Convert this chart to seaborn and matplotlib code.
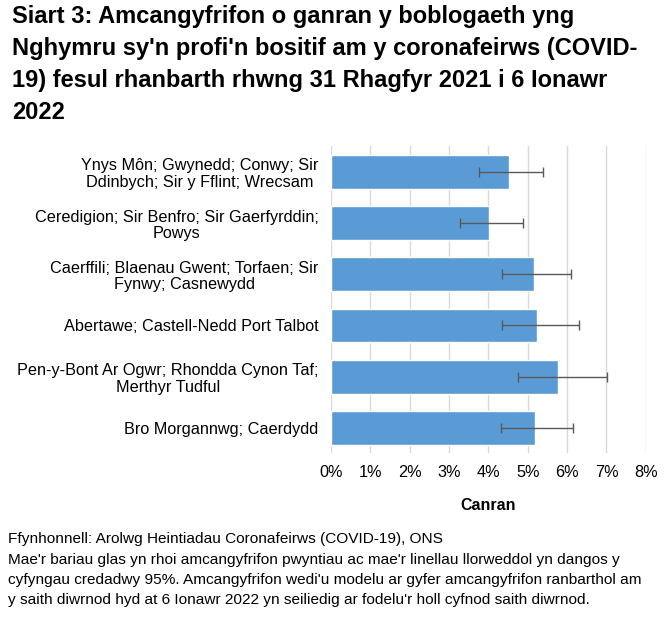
import numpy as np
import pandas as pd
import matplotlib
matplotlib.use("Agg")
import matplotlib.pyplot as plt
import seaborn as sns
from matplotlib.ticker import PercentFormatter

# Data (percent)
regions = [
    "Ynys Môn; Gwynedd; Conwy; Sir\nDdinbych; Sir y Fflint; Wrecsam",
    "Ceredigion; Sir Benfro; Sir Gaerfyrddin;\nPowys",
    "Caerffili; Blaenau Gwent; Torfaen; Sir\nFynwy; Casnewydd",
    "Abertawe; Castell-Nedd Port Talbot",
    "Pen-y-Bont Ar Ogwr; Rhondda Cynon Taf;\nMerthyr Tudful",
    "Bro Morgannwg; Caerdydd",
]
estimate = [4.52, 4.01, 5.15, 5.23, 5.76, 5.18]
lower = [3.76, 3.28, 4.35, 4.35, 4.75, 4.32]
upper = [5.39, 4.89, 6.11, 6.30, 7.01, 6.16]

df = pd.DataFrame({"region": regions, "estimate": estimate,
                   "lower": lower, "upper": upper})

sns.set_style("white")
plt.rcParams["font.family"] = ["Liberation Sans", "DejaVu Sans"]
plt.rcParams["text.color"] = "black"

fig = plt.figure(figsize=(6.72, 6.19), dpi=100)
ax = fig.add_axes([0.4926, 0.2675, 0.4684, 0.496])

sns.barplot(data=df, x="estimate", y="region", orient="h",
            color="#5b9bd5", saturation=1, width=0.66, ax=ax)

# confidence intervals
xerr = np.array([df["estimate"] - df["lower"], df["upper"] - df["estimate"]])
ax.errorbar(df["estimate"], np.arange(len(df)), xerr=xerr, fmt="none",
            ecolor="#595959", elinewidth=1, capsize=3.5, capthick=1)

ax.set_xlim(0, 8)
ax.set_ylim(len(df) - 0.5, -0.5)
ax.set_xticks(range(0, 9))
ax.xaxis.set_major_formatter(PercentFormatter(decimals=0))
ax.grid(axis="x", color="#d9d9d9", linewidth=1)
ax.set_axisbelow(True)
for s in ax.spines.values():
    s.set_visible(False)
ax.tick_params(axis="both", length=0, labelsize=11.7, colors="black")
ax.tick_params(axis="x", pad=8)
ax.tick_params(axis="y", pad=9)
for t in ax.get_yticklabels():
    t.set_multialignment("center")
    t.set_linespacing(1.13)

ax.set_ylabel("")
ax.set_xlabel("Canran", fontsize=11.5, fontweight="bold", labelpad=13,
              color="black")

fig.text(0.018, 0.992,
         "Siart 3: Amcangyfrifon o ganran y boblogaeth yng\n"
         "Nghymru sy'n profi'n bositif am y coronafeirws (COVID-\n"
         "19) fesul rhanbarth rhwng 31 Rhagfyr 2021 i 6 Ionawr\n"
         "2022",
         fontsize=17, fontweight="bold", va="top", ha="left", linespacing=1.5)

fig.text(0.012, 0.140,
         "Ffynhonnell: Arolwg Heintiadau Coronafeirws (COVID-19), ONS\n"
         "Mae'r bariau glas yn rhoi amcangyfrifon pwyntiau ac mae'r linellau llorweddol yn dangos y\n"
         "cyfyngau credadwy 95%. Amcangyfrifon wedi'u modelu ar gyfer amcangyfrifon ranbarthol am\n"
         "y saith diwrnod hyd at 6 Ionawr 2022 yn seiliedig ar fodelu'r holl cyfnod saith diwrnod.",
         fontsize=11.1, va="top", ha="left", linespacing=1.58)

fig.savefig("out.png", dpi=100)
